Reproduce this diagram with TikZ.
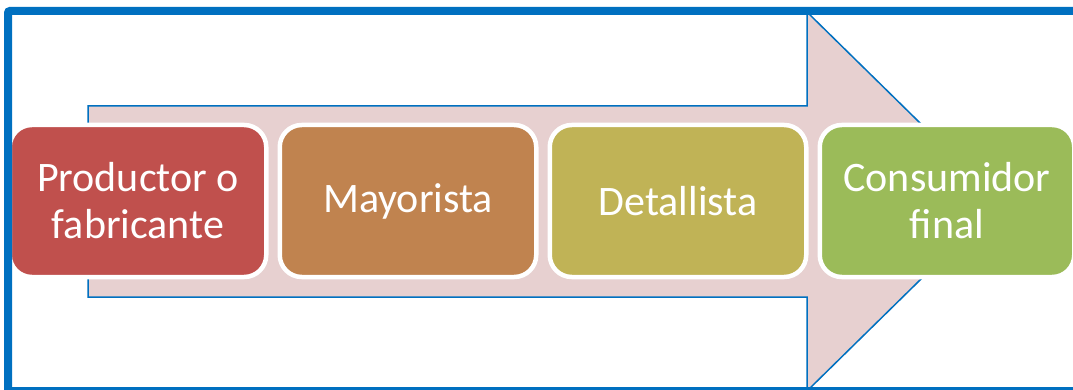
\documentclass[tikz,border=0pt]{standalone}
\usepackage{fontspec}
\setmainfont{Carlito}
\definecolor{frameblue}{HTML}{0070C0}
\definecolor{arrowpink}{HTML}{E7D0D0}
\definecolor{stepred}{HTML}{C0504D}
\definecolor{stepbrown}{HTML}{C0834F}
\definecolor{stepolive}{HTML}{C0B356}
\definecolor{stepgreen}{HTML}{9BBB59}
\begin{document}
\begin{tikzpicture}[x=1pt,y=-1pt,
  stagebox/.style={rectangle, rounded corners=22pt, draw=white, line width=4.5pt,
    minimum height=152pt, inner sep=0pt, text=white, align=center,
    font=\fontsize{42}{47}\selectfont}]
\useasboundingbox (0,0) rectangle (1073,390);
\clip (0,0) rectangle (1073,390);
\fill[white] (0,0) rectangle (1073,390);

% wide background arrow
\draw[fill=arrowpink, draw=frameblue, line width=1.5pt]
  (88,106) -- (807,106) -- (807,12) -- (1000,201.5) -- (807,391)
  -- (807,297) -- (88,297) -- cycle;

% process stages
\node[stagebox, fill=stepred,   minimum width=256.5pt] (prod) at (138,201) {Productor o\\fabricante};
\node[stagebox, fill=stepbrown, minimum width=256.5pt] (mayo) at (408,201) {Mayorista};
\node[stagebox, fill=stepolive, minimum width=256.5pt] (deta) at (678,201) {Detallista};
\node[stagebox, fill=stepgreen, minimum width=254.5pt] (cons) at (947,201) {Consumidor\\final};

% outer frame
\draw[frameblue, line width=8pt, rounded corners=2pt] (8,11) rectangle (1082,391);
\end{tikzpicture}
\end{document}
